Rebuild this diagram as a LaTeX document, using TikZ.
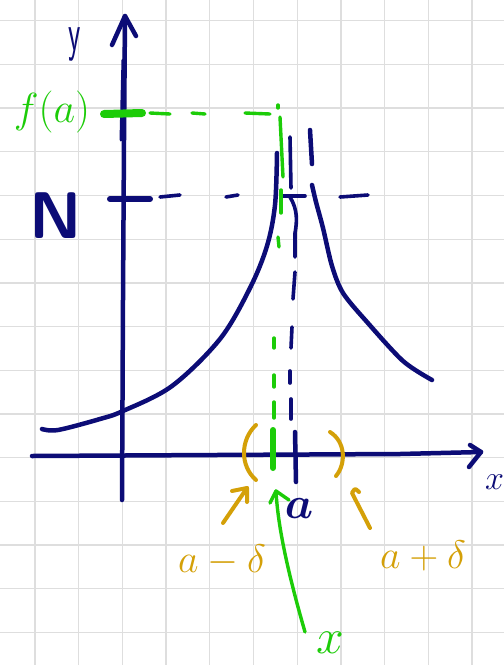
\documentclass[tikz,border=0pt]{standalone}
\usepackage{amsmath}
\definecolor{navy}{RGB}{12,12,118}
\definecolor{grn}{RGB}{28,204,8}
\definecolor{gold}{RGB}{212,160,8}
\definecolor{gridc}{RGB}{222,222,222}
\tikzset{
  gridl/.style={draw=gridc, line width=1.3},
  pen/.style={draw=navy, line width=4.5, line cap=round, line join=round},
  thinpen/.style={draw=navy, line width=3.6, line cap=round, line join=round},
  gpen/.style={draw=grn, line width=3.4, line cap=round, line join=round},
  opn/.style={draw=gold, line width=4, line cap=round, line join=round},
  lbl/.style={inner sep=0pt, outer sep=0pt, font=\Huge},
}
\begin{document}
\begin{tikzpicture}[x=1pt,y=-1pt]
\fill[white] (0,0) rectangle (504,665);
\useasboundingbox (0,0) rectangle (504,665);
% grid
\foreach \i in {0,...,10} \draw[gridl] ({35+43.7*\i},0) -- ({35+43.7*\i},665);
\foreach \i in {0,...,14} \draw[gridl] (0,{20.7+43.7*\i}) -- (504,{20.7+43.7*\i});

% named points
\coordinate (ybot) at (122,500);
\coordinate (ytop) at (125,16);
\coordinate (xleft) at (32,456);
\coordinate (xright) at (481,452);

% axes
\draw[pen] (ybot) -- (123,300) -- (124,140) -- (ytop);
\draw[pen, line width=3] (121,140) -- (123,60);
\draw[pen] (112,45) -- (ytop) -- (136,36);
\draw[pen] (xleft) -- (400,454) -- (xright);
\draw[pen] (470,445) -- (xright) -- (469,467);

% left branch
\draw[pen] plot[smooth, tension=0.55] coordinates {(42,429) (58,430) (100,419) (123,411) (172,386) (220,339) (250,288) (267,246) (275,205) (277,153)};
% right branch
\draw[pen] (310,130) -- (312,164);
\draw[pen] plot[smooth, tension=0.5] coordinates {(312,185) (316,202) (323,228) (332,266) (343,293) (367,322) (403,361) (432,380)};

% N tick and dashes
\draw[pen, line width=6] (110,199) -- (150,199);
\foreach \a/\b in {160/180, 226/238, 340/368}
  \draw[thinpen] (\a,197) -- (\b,195);
\draw[thinpen] (283,196) -- (305,196);

% asymptote x = a (dashed, wobbly)
\draw[thinpen] (290,137) -- (291,188);
\draw[thinpen] (290,197) .. controls (298,210) and (297,222) .. (295,233) -- (295,257);
\draw[thinpen] (295,272) -- (293,299);
\draw[thinpen] (292,327) -- (291,348);
\draw[thinpen] (290,371) -- (290,383);
\draw[thinpen] (291,399) -- (291,419);
\draw[pen] (295,432) -- (296,482);

% green f(a) tick and dashes
\draw[gpen, line width=8] (104,114) -- (142,113);
\foreach \a/\b in {150/170, 192/205, 245/270}
  \draw[gpen] (\a,113) -- (\b,114);
\draw[gpen] (278,105) -- (278,108);
\draw[gpen] (280,117) -- (283,177);
\draw[gpen] (281,190) -- (281,213);
\draw[gpen] (278,237) -- (279,247);
\draw[gpen] (274,338) -- (274,348);
\draw[gpen] (274,375) -- (274,387);
\draw[gpen] (274,402) -- (274,418);
\draw[gpen, line width=6] (273,430) -- (273,468);

% interval brackets
\coordinate (lp) at (247,488);
\coordinate (rp) at (352,493);
\draw[opn] (256,425) .. controls (240,440) and (240,466) .. (256,480);
\draw[opn] (330,432) .. controls (346,442) and (346,464) .. (336,476);

% labels
\node[lbl, text=navy, font=\sffamily\fontsize{38}{38}\selectfont, xscale=0.75, yscale=1.4, anchor=base] (ylab) at (75,50) {y};
\node[lbl, text=grn, scale=1.69] (falab) at (52,112) {$f(a)$};
\node[lbl, text=navy, font=\sffamily\bfseries\fontsize{66}{66}\selectfont] (Nlab) at (56,216) {N};
\node[lbl, text=navy, scale=1.8] (alab) at (299,509) {$\boldsymbol{a}$};
\node[lbl, text=gold, scale=1.6] (amd) at (222,560) {$a-\delta$};
\node[lbl, text=gold, scale=1.6] (apd) at (423,556) {$a+\delta$};
\node[lbl, text=grn, scale=2] (xg) at (330,643) {$x$};
\node[lbl, text=navy, scale=1.37, anchor=west] (xn) at (485,482) {$x$};

% orange arrows
\coordinate (lt) at (223,523);
\coordinate (rt) at (370,528);
\draw[opn] (lt) -- (lp);
\draw[opn] (232,491) -- (lp) -- (247,502);
\draw[opn] (rt) -- (rp) .. controls (355,488) .. (359,492);

% green arrow to x
\coordinate (gs) at (305,632);
\coordinate (gt) at (276,491);
\draw[gpen] (gs) .. controls (290,580) and (278,530) .. (gt);
\draw[gpen] (270,503) -- (gt) -- (289,500);
\end{tikzpicture}
\end{document}
